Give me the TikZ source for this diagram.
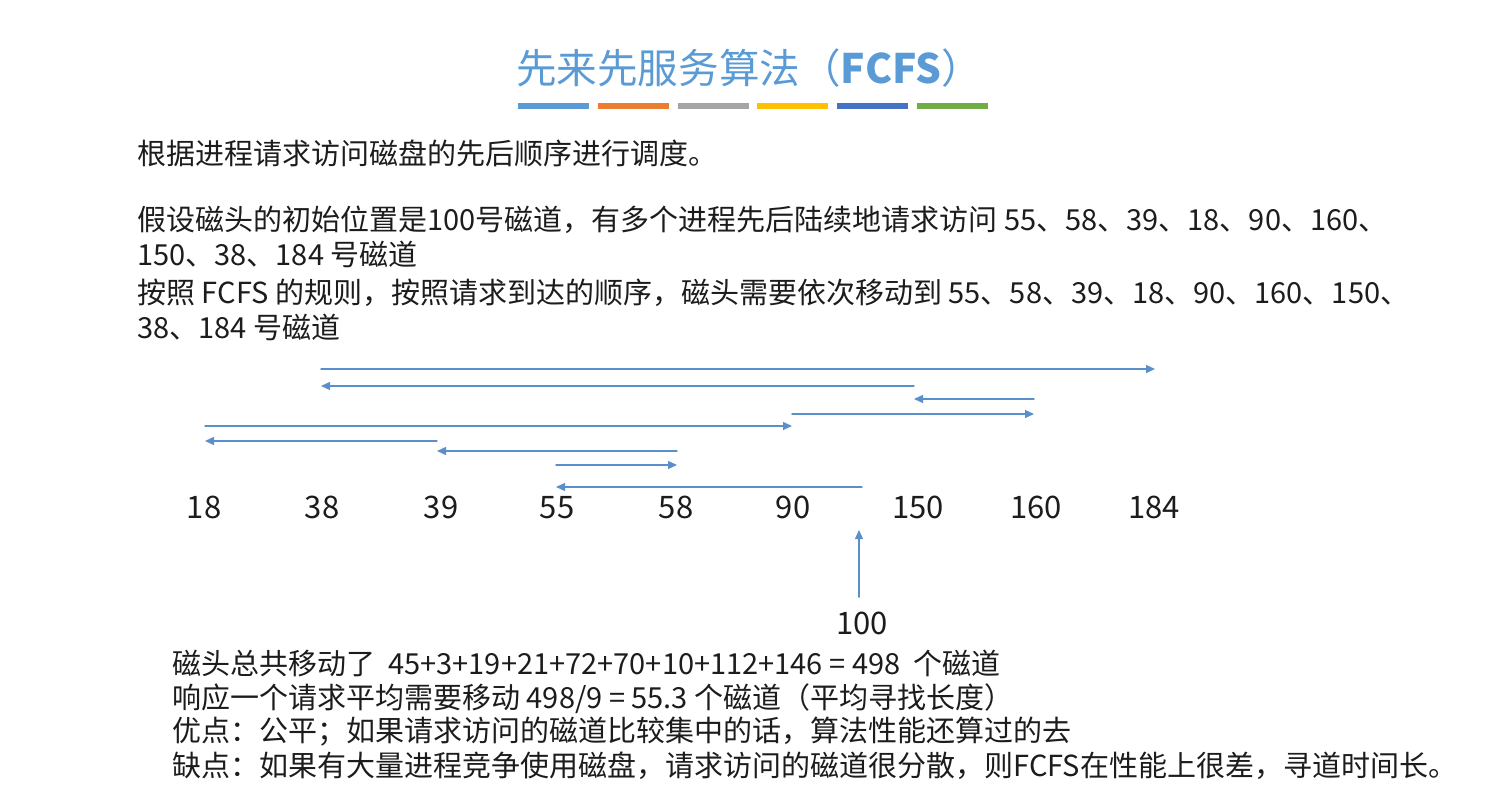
\documentclass[tikz,border=0pt]{standalone}
\usepackage{fontspec}
\setmainfont{Noto Sans CJK SC}
\usetikzlibrary{arrows.meta}

\definecolor{titleblue}{HTML}{5B9BD5}
\definecolor{arrowblue}{HTML}{5B8FC9}
\definecolor{textgray}{HTML}{1C1C1C}
\definecolor{barblue}{HTML}{5B9BD5}
\definecolor{barorange}{HTML}{ED7D31}
\definecolor{bargray}{HTML}{A5A5A5}
\definecolor{bargold}{HTML}{FFC000}
\definecolor{bardarkblue}{HTML}{4472C4}
\definecolor{bargreen}{HTML}{70AD47}

\begin{document}
\begin{tikzpicture}[%
        x = 0.5pt,
        y = -0.5pt,
        line cap = round,
        > = {Triangle[length = 4.5pt, width = 4pt]},
        body/.style = {anchor = base west, inner sep = 0pt, text = textgray,
            font = \fontsize{14.5}{17}\selectfont},
        track/.style = {anchor = base, inner sep = 0pt, text = textgray,
            font = \fontsize{15.5}{18}\selectfont},
        move/.style = {->, draw = arrowblue, line width = 0.7pt}
    ]

        \useasboundingbox (0, 0) rectangle (1511, 808);

        % Title with the coloured bars under it.
        \node (title) at (749, 68) [text = titleblue,
            font = \fontsize{20.3}{24}\selectfont] {先来先服务算法（\textbf{FCFS}）};
        \foreach \c [count = \i from 0] in {barblue, barorange, bargray,
                bargold, bardarkblue, bargreen}
            \fill[\c] (518 + 79.8*\i, 103) rectangle ++(71, 6);

        % Text above the drawing (y is the baseline).
        \node (l1) at (137, 164) [body] {根据进程请求访问磁盘的先后顺序进行调度。};
        \node (l2) at (137, 230) [body] {假设磁头的初始位置是100号磁道，有多个进程先后陆续地请求访问 55、58、39、18、90、160、};
        \node (l3) at (137, 265) [body] {150、38、184 号磁道};
        \node (l4) at (137, 303) [body] {按照 FCFS 的规则，按照请求到达的顺序，磁头需要依次移动到 55、58、39、18、90、160、150、};
        \node (l5) at (137, 338) [body] {38、184 号磁道};

        % Track numbers along the bottom of the drawing.
        \foreach \t/\x in {18/204, 38/322, 39/441, 55/557, 58/676,
                90/793, 150/918, 160/1036, 184/1154}
            \node (t\t) at (\x, 518) [track] {\t};

        % Horizontal positions where the arrows start and end.
        \foreach \t/\x in {18/205, 38/321, 39/437, 55/556, 58/677, 90/792,
                100/862, 150/914, 160/1034, 184/1155}
            \coordinate (x\t) at (\x, 0);

        % Head moves in order of the requests, one row higher each time.
        \foreach \a/\b/\y in {100/55/487, 55/58/465, 58/39/451, 39/18/441,
                18/90/426, 90/160/414, 160/150/399, 150/38/386, 38/184/369}
        {
            \coordinate (row) at (0, \y);
            \draw[move] (x\a |- row) to (x\b |- row);
        }

        % Where the head starts.
        \node (start) at (862, 634) [track] {100};
        \coordinate (head) at (859, 530);
        \draw[move, shorten < = 7pt] (start.north -| head) to (head);

        % Text below the drawing.
        \node (s1) at (172, 674) [body] {磁头总共移动了~ 45+3+19+21+72+70+10+112+146 = 498 ~个磁道};
        \node (s2) at (172, 708) [body] {响应一个请求平均需要移动 498/9 = 55.3 个磁道（平均寻找长度）};
        \node (s3) at (172, 741) [body] {优点：公平；如果请求访问的磁道比较集中的话，算法性能还算过的去};
        \node (s4) at (172, 776) [body] {缺点：如果有大量进程竞争使用磁盘，请求访问的磁道很分散，则FCFS在性能上很差，寻道时间长。};
    \end{tikzpicture}
\end{document}
